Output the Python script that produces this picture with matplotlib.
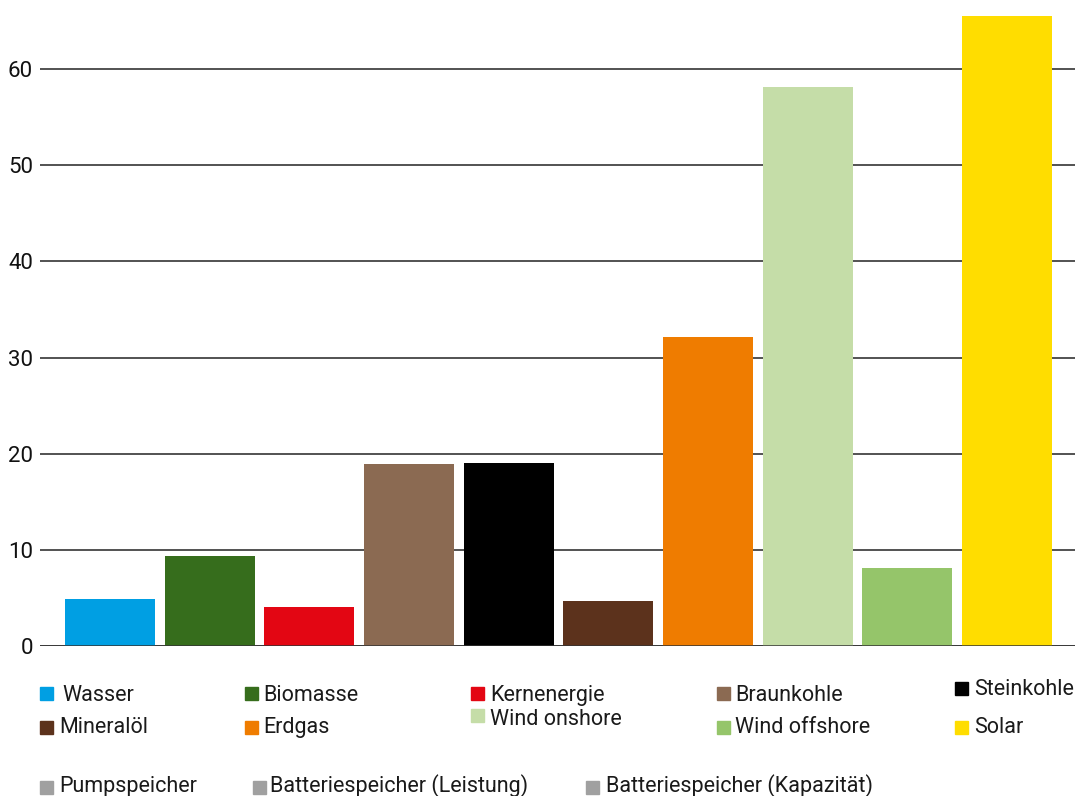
import matplotlib.pyplot as plt
from matplotlib.patches import Rectangle

plt.rcParams['font.family'] = ['Roboto', 'DejaVu Sans']

# Daten (GW)
kategorien = ['Wasser', 'Biomasse', 'Kernenergie', 'Braunkohle', 'Steinkohle',
              'Mineralöl', 'Erdgas', 'Wind onshore', 'Wind offshore', 'Solar']
werte = [4.9, 9.4, 4.1, 18.9, 19.0, 4.7, 32.1, 58.1, 8.1, 65.5]
farben = ['#009FE3', '#366D1C', '#E30613', '#8B6A52', '#000000',
          '#5C321C', '#EF7C00', '#C5DDA8', '#95C56A', '#FFDD00']
speicher = ['Pumpspeicher', 'Batteriespeicher (Leistung)', 'Batteriespeicher (Kapazität)']
speicher_farbe = '#A0A0A0'
yticks = [0, 10, 20, 30, 40, 50, 60]

W, H = 1075, 796
fig = plt.figure(figsize=(W / 100, H / 100), dpi=100)
ax = fig.add_axes([40 / W, 150 / H, 1 - 40 / W, 1 - 150 / H])

ax.bar(range(len(werte)), werte, width=0.903, color=farben, zorder=3)
ax.set_xlim(-0.702, 9.682)
ax.set_ylim(0, 67.2)
ax.set_yticks(yticks)
ax.set_xticks([])
ax.tick_params(axis='y', length=0, labelsize=16, pad=5, labelcolor='#111111')
ax.grid(axis='y', color='#444444', linewidth=1.3, zorder=0)
ax.axhline(0, color='#333333', linewidth=1.8, zorder=4)
for s in ax.spines.values():
    s.set_visible(False)

# Legende von Hand: Name, Farbe, x Quadrat, y Quadrat oben, x Text, y Grundlinie (Pixel)
legende = [
    ('Wasser', farben[0], 40, 687, 62, 701),
    ('Biomasse', farben[1], 245, 687, 263, 701),
    ('Kernenergie', farben[2], 471, 687, 490, 701),
    ('Braunkohle', farben[3], 717, 687, 735, 701),
    ('Steinkohle', farben[4], 955, 682, 974, 695),
    ('Mineralöl', farben[5], 40, 721, 59, 733),
    ('Erdgas', farben[6], 245, 721, 263, 733),
    ('Wind onshore', farben[7], 471, 709, 490, 725),
    ('Wind offshore', farben[8], 717, 721, 735, 733),
    ('Solar', farben[9], 955, 721, 974, 733),
    (speicher[0], speicher_farbe, 40, 781, 59, 792),
    (speicher[1], speicher_farbe, 253, 781, 270, 792),
    (speicher[2], speicher_farbe, 586, 781, 606, 792),
]
for name, col, xq, yq, xt, yt in legende:
    fig.add_artist(Rectangle((xq / W, 1 - (yq + 13) / H), 13 / W, 13 / H,
                             transform=fig.transFigure, color=col))
    fig.text(xt / W, 1 - yt / H, name, fontsize=15.5, va='baseline', ha='left',
             color='#1a1a1a')

fig.savefig('out.png', dpi=100)
